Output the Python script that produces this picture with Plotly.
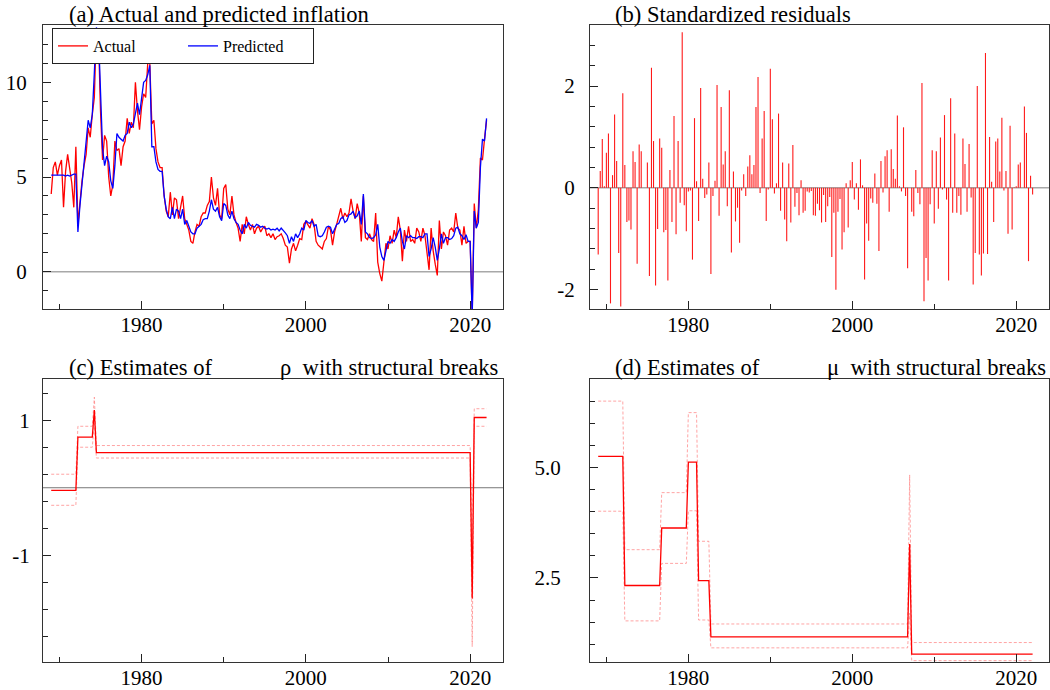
import plotly.graph_objects as go

W, H = 1050, 690

# ---------------- data ----------------
start_year = 1969.0  # first quarter
actual = [
    4.1, 5.5, 5.8, 5.1,   5.6, 5.9, 3.4, 5.3,   6.2, 5.5, 4.7, 3.4,   6.6, 2.5, 3.9, 4.8,
    5.6, 6.2, 7.6, 7.1,   8.3, 9.2, 12.8, 12.5, 8.5, 5.9, 7.2, 6.9,   5.0, 4.0, 4.6, 6.9,
    6.4, 6.5, 5.6, 6.6,   6.9, 8.1, 7.3, 7.9,   7.6, 10.0, 8.5, 7.5,  8.7, 9.4, 9.2, 11.0,
    11.0, 7.8, 8.0, 6.5,  5.8, 5.5, 5.5, 4.0,   3.2, 2.9, 4.2, 3.0,   3.9, 3.8, 2.8, 3.5,
    4.0, 2.8, 2.5, 2.2,   1.6, 1.5, 2.1, 2.5,   2.4, 2.9, 3.1, 3.1,   3.5, 3.7, 5.0, 3.9,
    3.5, 4.4, 3.0, 2.8,   4.4, 4.6, 3.3, 3.0,   4.0, 3.0, 2.6, 2.3,   1.6, 2.5, 2.0, 2.9,
    2.5, 2.2, 2.5, 2.0,   2.3, 2.4, 2.1, 2.3,   2.4, 1.9, 2.0, 1.8,   2.0, 1.7, 1.85, 1.9,
    2.0, 1.75, 1.4, 1.3,  0.45, 1.2, 1.5, 1.1,  1.4, 1.75, 1.7, 2.5,  2.65, 2.5, 2.3, 2.8,
    2.5, 1.6, 1.4, 1.3,   1.2, 1.6, 1.75, 2.4,  2.2, 1.4, 2.1, 2.5,   3.0, 3.35, 2.8, 3.1,
    2.9, 3.1, 3.85, 3.2,  2.8, 3.6, 3.1, 1.6,   4.0, 1.8, 1.7, 2.0,   1.7, 1.6, 3.1, 0.5,
    -0.1, -0.5, 0.5, 1.5, 1.2, 1.9, 1.5, 2.2,   1.8, 2.9, 2.2, 0.55,  2.2, 1.6, 2.4, 1.6,
    1.7, 1.5, 2.3, 2.1,   1.6, 2.3, 1.9, 0.9,   0.1, 2.3, 1.1, 0.4,   -0.2, 2.7, 1.2, 2.1,
    1.9, 1.4, 2.2, 2.3,   2.1, 3.1, 2.3, 2.2,   1.4, 2.4, 1.5, 1.6,   1.6, -2.3, 3.6, 2.3,
    3.3, 6.0, 5.9, 7.0,   8.0,
]
predicted = [
    5.1, 5.1, 5.1, 5.1,   5.1, 5.1, 5.1, 5.05,  5.1, 5.05, 5.1, 5.15, 5.15, 2.1, 3.5, 4.7,
    5.8, 7.0, 8.0, 7.6,   8.3, 10.5, 12.9, 12.6, 9.0, 6.5, 5.6, 6.1,  5.8, 4.8, 4.4, 5.6,
    7.3, 7.1, 7.0, 6.9,   7.2, 7.3, 7.9, 7.6,   7.8, 8.4, 8.9, 8.3,   9.2, 10.0, 10.1, 10.4,
    10.9, 6.6, 6.6, 5.8,  5.4, 5.3, 5.3, 4.0,   3.3, 2.9, 2.8, 3.4,   2.8, 3.3, 3.2, 2.8,
    3.3, 2.5, 2.7, 2.4,   2.1, 2.0, 2.0, 2.3,   2.4, 2.5, 2.75, 2.8,  2.8, 3.2, 3.8, 3.3,
    3.2, 3.4, 2.9, 2.7,   3.6, 3.5, 3.0, 2.8,   3.2, 2.8, 2.6, 2.5,   2.2, 2.0, 2.5, 2.3,
    2.6, 2.45, 2.4, 2.35, 2.5, 2.45, 2.35, 2.4, 2.3, 2.25, 2.3, 2.2,  2.25, 2.2, 2.3, 2.15,
    2.3, 2.2, 2.05, 1.9,  1.5, 1.85, 1.6, 2.0,  1.8, 2.0, 2.3, 2.2,   2.7, 2.6, 2.55, 2.7,
    2.4, 2.5, 1.9, 1.85,  1.9, 2.1, 2.35, 2.4,  2.35, 2.0, 2.3, 2.5,  2.55, 2.8, 2.9, 2.6,
    2.7, 3.0, 3.05, 3.2,  2.85, 2.95, 3.2, 2.5, 4.1, 2.1, 2.0, 1.8,   1.75, 1.8, 1.95, 2.5,
    1.3, 0.8, 0.6, 1.1,   1.6, 1.5, 1.7, 1.6,   1.8, 2.1, 2.3, 1.6,   1.2, 1.9, 1.8, 1.9,
    1.8, 1.8, 1.75, 1.85, 1.85, 1.8, 2.0, 2.0,  0.8, 1.2, 1.8, 1.3,   0.6, 1.2, 2.0, 1.5,
    1.8, 1.8, 1.7, 1.75,  1.9, 2.3, 2.35, 2.0,  1.9, 1.7, 1.95, 1.6,  1.6, -2.4, 3.2, 2.3,
    2.6, 5.5, 7.0, 6.9,   8.1,
]
residuals = [
    -1.31, 0.33, 0.96, 0.03, 0.69, 1.07, -2.27, 0.25, 1.44, 0.53,
    -1.28, -2.33, 1.86, 0.45, -0.67, -0.64, -0.82, 0.72, 0.51, -1.49,
    0.85, 0.72, 0.0, 0.0, 0.5, -1.73, 2.36, 0.92, -1.92, -0.81,
    0.97, 0.79, -0.87, -0.83, -1.82, 0.35, -0.67, 1.41, -0.91, 0.92,
    -0.29, 3.06, -0.34, -0.85, -0.07, -0.05, -1.41, 1.37, 0.13, -0.65,
    1.96, 0.18, -0.2, -0.13, 0.5, -1.69, -0.16, 0.14, 2.02, -0.55,
    1.59, 0.46, 0.72, -0.36, 1.92, -1.27, 0.32, -0.66, -0.39, -1.08,
    -0.05, 0.27,
    -0.16, 0.42, 0.64, 0.27, 0.45, 1.59, 2.18, -0.1, 0.97, 1.51,
    -0.65, -0.03, 2.34, 1.35, -0.11, 0.09, 1.46, -0.45, 0.5, -0.62,
    -1.05, 0.48, -0.68, 0.84, -0.37, -0.1, -0.54, 0.15, -0.49, -0.45,
    -0.07, -0.09, -0.06, -0.54, -0.55, -0.31, -0.44, -0.68, -0.14, -0.67,
    -0.36, -0.18, -1.36, -0.49, -2.0, -0.47, -0.22, -1.21, -0.87, 0.09,
    -0.78, 0.15, 0.51, -0.23, 0.09, -0.43, 0.56, 0.05, -1.8, -0.7,
    -1.04, -0.21, -0.29, 0.28, -0.31, -1.24, 0.53, -0.09, 0.62, 0.74,
    -0.47, 0.76, 0.37,
    0.18, 1.42, 0.03, -0.07, 1.19, -0.16, -1.58, 0.0, -0.47, -0.56,
    0.35, -0.1, -0.32, 2.06, -2.23, -1.38, -1.82, -0.32, 0.74, -0.7,
    0.72, -0.41, 0.99, -0.03, 1.43, -0.23, -1.82, 1.76, -0.49, 1.07,
    -0.49, -0.16, -0.53, 0.97, 0.47, -0.47, 0.86, -0.19, -1.9, -1.28,
    2.0, -1.31, -1.72, -1.29, 2.65, -1.3, 1.0, 0.12, -0.67, 0.91,
    0.97, 0.32, 1.38, -0.05, 0.33, -0.9, 1.22, -0.82, 0.01, 0.03,
    0.46, 0.5, 0.0, 1.6, 1.08, -1.44, 0.24, -0.13,
]

# structural-break segments (first quarter, last quarter, estimate, lower, upper)
rho_start = [1969.0, 1972.25, 1974.25, 1974.5, 2020.25, 2020.5]
rho_end   = [1972.0, 1974.0, 1974.25, 2020.0, 2020.25, 2022.0]
rho_est   = [-0.04, 0.75, 1.15, 0.52, -1.64, 1.04]
rho_lo    = [-0.26, 0.60, 0.95, 0.44, -2.35, 0.91]
rho_hi    = [0.20, 0.91, 1.34, 0.625, -0.95, 1.17]

mu_start = [1969.0, 1972.25, 1976.75, 1980.0, 1981.25, 1982.75, 2007.0, 2007.25]
mu_end   = [1972.0, 1976.5, 1979.75, 1981.0, 1982.5, 2006.75, 2007.0, 2022.0]
mu_est   = [5.25, 2.33, 3.63, 5.12, 2.44, 1.17, 3.27, 0.78]
mu_lo    = [4.01, 1.53, 2.83, 4.02, 1.55, 0.92, 1.70, 0.63]
mu_hi    = [6.50, 3.14, 4.43, 6.24, 3.33, 1.46, 4.83, 1.04]

titles = ["(a) Actual and predicted inflation", "(b) Standardized residuals"]
title_c = ["(c) Estimates of", "ρ  with structural breaks"]
title_d = ["(d) Estimates of", "μ  with structural breaks"]

# ---------------- helpers ----------------
dates = [start_year + 0.25 * i for i in range(len(actual))]


def expand(starts, ends, vals):
    xs, ys = [], []
    for s, e, v in zip(starts, ends, vals):
        n = int(round((e - s) / 0.25)) + 1
        for k in range(n):
            xs.append(s + 0.25 * k)
            ys.append(v)
    return xs, ys


FONT = "Liberation Serif"
RED = "#ff0000"
BAND = "rgba(255,90,90,0.55)"

fig = go.Figure()

# (a)
fig.add_trace(go.Scatter(x=dates, y=actual, mode="lines", name="Actual",
                         line=dict(color=RED, width=1.3), xaxis="x", yaxis="y"))
fig.add_trace(go.Scatter(x=dates, y=predicted, mode="lines", name="Predicted",
                         line=dict(color="#0000ff", width=1.3), xaxis="x", yaxis="y"))

# (b) stems
sx, sy = [], []
for d, r in zip(dates, residuals):
    sx += [d, d, None]
    sy += [0, r, None]
fig.add_trace(go.Scatter(x=sx, y=sy, mode="lines", showlegend=False,
                         line=dict(color="rgba(255,0,0,0.9)", width=1.1),
                         xaxis="x2", yaxis="y2"))

# (c) rho
for vals, dash, col, w in [(rho_lo, "3px,2px", BAND, 1), (rho_hi, "3px,2px", BAND, 1),
                           (rho_est, "solid", RED, 1.3)]:
    xs, ys = expand(rho_start, rho_end, vals)
    fig.add_trace(go.Scatter(x=xs, y=ys, mode="lines", showlegend=False,
                             line=dict(color=col, width=w, dash=dash),
                             xaxis="x3", yaxis="y3"))
# (d) mu
for vals, dash, col, w in [(mu_lo, "3px,2px", BAND, 1), (mu_hi, "3px,2px", BAND, 1),
                           (mu_est, "solid", RED, 1.3)]:
    xs, ys = expand(mu_start, mu_end, vals)
    fig.add_trace(go.Scatter(x=xs, y=ys, mode="lines", showlegend=False,
                             line=dict(color=col, width=w, dash=dash),
                             xaxis="x4", yaxis="y4"))

# panel boxes in page pixels (left, right, top, bottom)
boxes = {
    "a": (43, 503, 25, 309),
    "b": (590, 1049, 25, 309),
    "c": (43, 503, 379, 662),
    "d": (590, 1049, 379, 662),
}


def px2x(px):
    return px / W


def py2y(py):
    return 1 - py / H


def xdom(b):
    return [px2x(b[0]), px2x(b[1])]


def ydom(b):
    return [py2y(b[3]), py2y(b[2])]


tickfont = dict(family=FONT, size=21, color="black")


def xaxis_cfg(b, anchor):
    return dict(domain=xdom(b), anchor=anchor, range=[1968, 2024],
                tickvals=[1980, 2000, 2020], ticktext=["1980", "2000", "2020"],
                ticks="inside", ticklen=8, tickcolor="#222", tickwidth=1,
                minor=dict(tickvals=[1970, 1990, 2010], ticks="inside", ticklen=5,
                           tickcolor="#222", tickwidth=1),
                showgrid=False, zeroline=False, showline=True, linecolor="#333",
                linewidth=1.2, mirror=True, tickfont=tickfont, ticklabelstandoff=-3)


def yaxis_cfg(b, anchor, rng, tv, tt, mdtick, mtick0, standoff=10):
    return dict(domain=ydom(b), anchor=anchor, range=rng,
                tickvals=tv, ticktext=tt,
                ticks="inside", ticklen=8, tickcolor="#222", tickwidth=1,
                minor=dict(dtick=mdtick, tick0=mtick0, ticks="inside", ticklen=5,
                           tickcolor="#222", tickwidth=1),
                showgrid=False, zeroline=False, showline=True, linecolor="#333",
                linewidth=1.2, mirror=True, tickfont=tickfont,
                ticklabelstandoff=standoff)


layout = dict(
    width=W, height=H, margin=dict(l=0, r=0, t=0, b=0),
    paper_bgcolor="white", plot_bgcolor="white", template="none",
    xaxis=xaxis_cfg(boxes["a"], "y"),
    yaxis=yaxis_cfg(boxes["a"], "x", [-1.97, 13.03], [0, 5, 10], ["0", "5", "10"], 1, 0, 11),
    xaxis2=xaxis_cfg(boxes["b"], "y2"),
    yaxis2=yaxis_cfg(boxes["b"], "x2", [-2.38, 3.2], [-2, 0, 2], ["-2", "0", "2"], 0.4, 0, 10),
    xaxis3=xaxis_cfg(boxes["c"], "y3"),
    yaxis3=yaxis_cfg(boxes["c"], "x3", [-2.58, 1.61], [-1, 1], ["-1", "1"], 0.4, 0.2, 8),
    xaxis4=xaxis_cfg(boxes["d"], "y4"),
    yaxis4=yaxis_cfg(boxes["d"], "x4", [0.6, 7.0], [2.5, 5.0], ["2.5", "5.0"], 0.5, 0, 24),
    showlegend=True,
    legend=dict(x=px2x(52), y=py2y(28), xanchor="left", yanchor="top",
                orientation="h", bordercolor="#222", borderwidth=1, bgcolor="white",
                font=dict(family=FONT, size=16, color="black"),
                entrywidth=85, entrywidthmode="pixels", itemwidth=30,
                traceorder="normal"),
)
fig.update_layout(**layout)

# zero lines
for xr, yr, col, w in [("x", "y", "#a8a8a8", 1.5), ("x2", "y2", "#a8a8a8", 1.5),
                       ("x3", "y3", "#777777", 1)]:
    fig.add_shape(type="line", xref=f"{xr} domain", yref=yr, x0=0, x1=1, y0=0, y1=0,
                  line=dict(color=col, width=w), layer="below")

# titles
tfont = dict(family=FONT, size=22.6, color="black")
ann = [
    (67, 14.5, titles[0]), (613, 14.5, titles[1]),
    (67, 367.5, title_c[0]), (278, 367.5, title_c[1]),
    (613, 367.5, title_d[0]), (825, 367.5, title_d[1]),
]
for px, py, txt in ann:
    fig.add_annotation(x=px2x(px), y=py2y(py), xref="paper", yref="paper", text=txt,
                       showarrow=False, xanchor="left", yanchor="middle", font=tfont)

# the page's default 8px body margin would shift the chart; remove it
fig.write_html("out.html", config={"displayModeBar": False},
               post_script="document.body.style.margin='0px';")
